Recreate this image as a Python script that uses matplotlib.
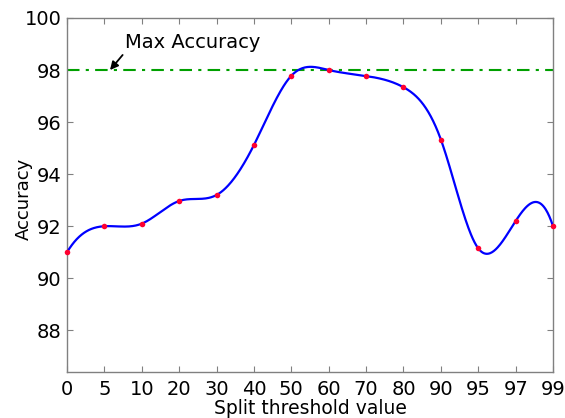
import numpy as np
import matplotlib
matplotlib.use("Agg")
import matplotlib.pyplot as plt

categories = ["0", "5", "10", "20", "30", "40", "50", "60", "70", "80", "90", "95", "97", "99"]
accuracy = [91.0, 92.0, 92.1, 92.97, 93.2, 95.12, 97.78, 98.0, 97.77, 97.34, 95.33, 91.15, 92.2, 92.0]
max_accuracy = 98.0
y_ticks = [88, 90, 92, 94, 96, 98, 100]


def notaknot_spline(x, y, xs):
    x = np.asarray(x, float)
    y = np.asarray(y, float)
    n = len(x)
    h = np.diff(x)
    A = np.zeros((n, n))
    r = np.zeros(n)
    A[0, 0] = h[1]
    A[0, 1] = -(h[0] + h[1])
    A[0, 2] = h[0]
    A[-1, -3] = h[-1]
    A[-1, -2] = -(h[-2] + h[-1])
    A[-1, -1] = h[-2]
    for i in range(1, n - 1):
        A[i, i - 1] = h[i - 1]
        A[i, i] = 2 * (h[i - 1] + h[i])
        A[i, i + 1] = h[i]
        r[i] = 6 * ((y[i + 1] - y[i]) / h[i] - (y[i] - y[i - 1]) / h[i - 1])
    M = np.linalg.solve(A, r)
    idx = np.clip(np.searchsorted(x, xs) - 1, 0, n - 2)
    x0 = x[idx]
    x1 = x[idx + 1]
    hh = x1 - x0
    a = (x1 - xs) / hh
    b = (xs - x0) / hh
    return (a * y[idx] + b * y[idx + 1]
            + ((a ** 3 - a) * M[idx] + (b ** 3 - b) * M[idx + 1]) * hh ** 2 / 6)


plt.rcParams['font.family'] = ['DejaVu Sans']

fig = plt.figure(figsize=(5.65, 4.18), dpi=100)
ax = fig.add_axes([0.1186, 0.110, 0.8602, 0.847])

xpos = np.arange(len(categories))
xs = np.linspace(0, len(categories) - 1, 800)
ys = notaknot_spline(xpos, accuracy, xs)

ax.axhline(max_accuracy, color='#00a000', linestyle=(0, (6, 3, 1.5, 3)), linewidth=1.5, zorder=2)
ax.plot(xs, ys, color='#0000ff', linewidth=1.6, zorder=3)
ax.plot(xpos, accuracy, linestyle='none', marker='o', markersize=4,
        color='#ff0030', markeredgewidth=0, zorder=4, clip_on=False)

ax.annotate("Max Accuracy", xy=(1.15, 98.0), xytext=(1.55, 99.05),
            fontsize=14, va='center', ha='left',
            arrowprops=dict(arrowstyle='-|>', color='black', lw=1.3,
                            mutation_scale=12, shrinkA=0, shrinkB=0,
                            relpos=(0.0, 0.0)))

ax.set_xlim(0, len(categories) - 1)
ax.set_ylim(86.4, 100)
ax.set_xticks(xpos)
ax.set_xticklabels(categories)
ax.set_yticks(y_ticks)
ax.tick_params(direction='in', length=4, color='#808080', labelsize=14,
               top=True, right=True, width=0.8)
ax.tick_params(axis='x', pad=6)
ax.tick_params(axis='y', pad=4)
for s in ax.spines.values():
    s.set_color('#808080')
    s.set_linewidth(1.0)

ax.set_xlabel("Split threshold value", fontsize=13.5, labelpad=0)
ax.set_ylabel("Accuracy", fontsize=13)
ax.yaxis.set_label_coords(-0.070, 0.49)

fig.savefig("out.png", dpi=100)
